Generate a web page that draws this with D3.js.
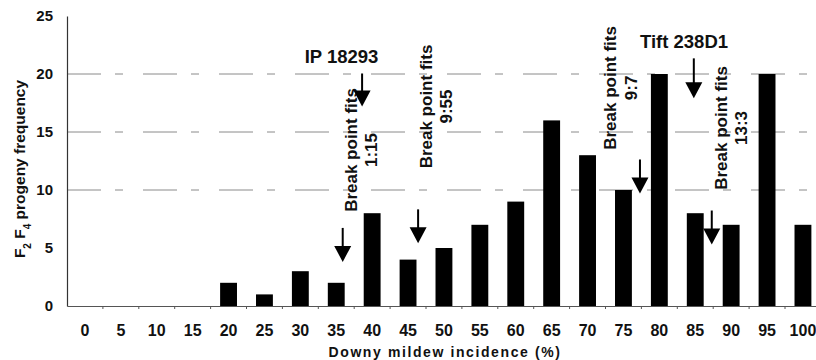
<!DOCTYPE html>
<html>
<head>
<meta charset="utf-8">
<script src="https://cdn.jsdelivr.net/npm/d3@7"></script>
<style>
  body { margin: 0; background: #fff; }
  svg text { font-family: "Liberation Sans", Arial, sans-serif; font-weight: bold; fill: #111; }
</style>
</head>
<body>
<div id="chart"></div>
<script>
// categories (downy mildew incidence, %)
var categories = ["0", "5", "10", "15", "20", "25", "30", "35", "40", "45", "50",
  "55", "60", "65", "70", "75", "80", "85", "90", "95", "100"];
// F2 F4 progeny frequency
var frequency = [0, 0, 0, 0, 2, 1, 3, 2, 8, 4, 5, 7, 9, 16, 13, 10, 20, 8, 7, 20, 7];
var yTicks = [0, 5, 10, 15, 20, 25];
var gridValues = [10, 15, 20];

// break point annotations: arrow at incidence x, tip at frequency y
var breakPoints = [
  { x: 35.9, y: 3.8, line1: "Break point fits", line2: "1:15", labelX: 37.9, labelY: 13.45 },
  { x: 46.4, y: 5.4, line1: "Break point fits", line2: "9:55", labelX: 48.3, labelY: 17.2 },
  { x: 77.3, y: 9.7, line1: "Break point fits", line2: "9:7", labelX: 74.0, labelY: 18.8 },
  { x: 87.3, y: 5.3, line1: "Break point fits", line2: "13:3", labelX: 89.4, labelY: 15.35 }
];
var parents = [
  { name: "IP 18293", x: 38.6, y: 17.2, len: 33, labelX: 30.6, labelY: 20.95 },
  { name: "Tift 238D1", x: 84.8, y: 17.9, len: 40, labelX: 77.3, labelY: 22.24 }
];

var W = 816, H = 360;
var margin = { top: 16, bottom: 54, left: 67 };
var plotBottom = H - margin.bottom;

var svg = d3.select("#chart").append("svg")
  .attr("width", W).attr("height", H);

var step = 35.9;
var x = d3.scaleBand()
  .domain(categories)
  .range([margin.left, margin.left + step * categories.length])
  .paddingInner(0.53)
  .paddingOuter(0.265);

// linear scale for annotation positions in % units
var xLin = d3.scaleLinear()
  .domain([0, 100])
  .range([x("0") + x.bandwidth() / 2, x("100") + x.bandwidth() / 2]);

var y = d3.scaleLinear()
  .domain([0, 25])
  .range([plotBottom, margin.top]);

// gridlines (faint, broken like the scanned original)
svg.append("g").selectAll("line")
  .data(gridValues)
  .enter().append("line")
  .attr("x1", margin.left)
  .attr("x2", W)
  .attr("y1", function(d) { return y(d); })
  .attr("y2", function(d) { return y(d); })
  .attr("stroke", "#8a8a8a")
  .attr("stroke-width", 1)
  .attr("stroke-dasharray", "34,14,8,20");

// bars
svg.selectAll(".bar")
  .data(frequency)
  .enter().append("rect")
  .attr("class", "bar")
  .attr("x", function(d, i) { return x(categories[i]); })
  .attr("width", x.bandwidth())
  .attr("y", function(d) { return y(d); })
  .attr("height", function(d) { return plotBottom - y(d); })
  .attr("fill", "#000");

// y axis
var yAxis = svg.append("g")
  .attr("transform", "translate(" + margin.left + ",0)")
  .call(d3.axisLeft(y).tickValues(yTicks).tickSize(0).tickPadding(14));
yAxis.select(".domain").attr("stroke", "#333").attr("stroke-width", 1.2);
yAxis.selectAll("text").style("font-size", "15px");

// x axis
var xAxis = svg.append("g")
  .attr("transform", "translate(0," + plotBottom + ")")
  .call(d3.axisBottom(x).tickSize(0).tickPadding(19));
xAxis.select(".domain").attr("stroke", "#555").attr("stroke-width", 1);
xAxis.selectAll("text").style("font-size", "16px");

// small tick marks between categories
svg.append("g").selectAll("line")
  .data(categories.slice(1))
  .enter().append("line")
  .attr("x1", function(d) { return x(d) - x.step() * x.paddingInner() / 2; })
  .attr("x2", function(d) { return x(d) - x.step() * x.paddingInner() / 2; })
  .attr("y1", plotBottom)
  .attr("y2", plotBottom + 3)
  .attr("stroke", "#555");

// axis titles
svg.append("text")
  .attr("x", 445)
  .attr("y", 357)
  .attr("text-anchor", "middle")
  .style("font-size", "14px")
  .style("letter-spacing", "1.6px")
  .text("Downy mildew incidence (%)");

var yTitle = svg.append("text")
  .attr("transform", "translate(25,169) rotate(-90)")
  .attr("text-anchor", "middle")
  .style("font-size", "15.5px");
yTitle.append("tspan").text("F");
yTitle.append("tspan").attr("baseline-shift", "sub").style("font-size", "10px").text("2");
yTitle.append("tspan").text(" F");
yTitle.append("tspan").attr("baseline-shift", "sub").style("font-size", "10px").text("4");
yTitle.append("tspan").text(" progeny frequency");

// arrow drawing helper
function arrow(g, px, tipY, len) {
  var headH = 16, headW = 8.5;
  g.append("line")
    .attr("x1", px).attr("x2", px)
    .attr("y1", tipY - len).attr("y2", tipY - headH + 1)
    .attr("stroke", "#000").attr("stroke-width", 2);
  g.append("path")
    .attr("d", "M" + (px - headW) + "," + (tipY - headH) + "L" + (px + headW) + "," + (tipY - headH) + "L" + px + "," + tipY + "Z")
    .attr("fill", "#000");
}

var ann = svg.append("g");

breakPoints.forEach(function(b) {
  arrow(ann, xLin(b.x), y(b.y), 34);
  var t = ann.append("text")
    .attr("transform", "translate(" + xLin(b.labelX) + "," + y(b.labelY) + ") rotate(-90)")
    .attr("text-anchor", "middle")
    .style("font-size", "17px");
  t.append("tspan").attr("x", 0).attr("dy", 0).text(b.line1);
  t.append("tspan").attr("x", 0).attr("dy", "1.2em").text(b.line2);
});

parents.forEach(function(p) {
  arrow(ann, xLin(p.x), y(p.y), p.len);
  ann.append("text")
    .attr("x", xLin(p.labelX))
    .attr("y", y(p.labelY))
    .style("font-size", "18.5px")
    .text(p.name);
});
</script>
</body>
</html>
